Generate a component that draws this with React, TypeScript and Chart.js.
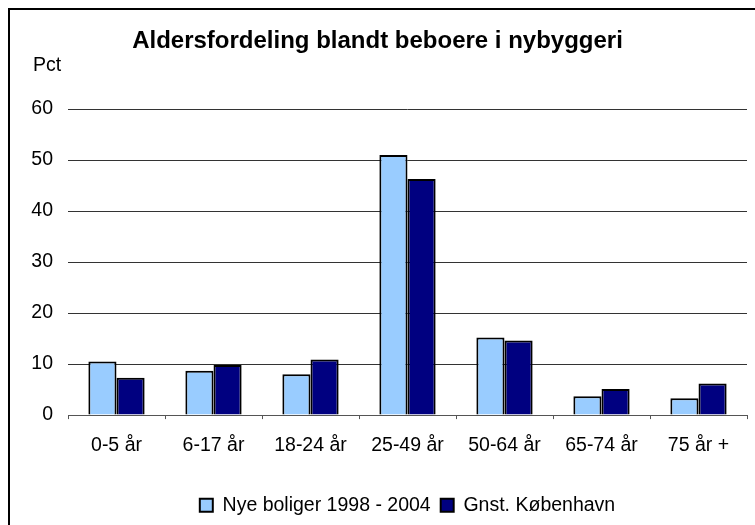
import React, { useEffect, useRef } from 'react';
import { Chart, registerables } from 'chart.js';
Chart.register(...registerables);

const categories = ['0-5 år', '6-17 år', '18-24 år', '25-49 år', '50-64 år', '65-74 år', '75 år +'];
const nyeBoliger = [10.5, 8.7, 8.0, 51.0, 15.2, 3.7, 3.3];
const gnstKbh = [7.3, 9.8, 10.9, 46.3, 14.6, 5.1, 6.2];
const yTicks = [0, 10, 20, 30, 40, 50, 60];
const seriesLabels = ['Nye boliger 1998 - 2004', 'Gnst. København'];
const titleText = 'Aldersfordeling blandt beboere i nybyggeri';
const yUnit = 'Pct';

const FONT = '"Liberation Sans", Arial, sans-serif';

const decor = {
  id: 'decor',
  afterDraw(chart: any) {
    const { ctx } = chart;
    ctx.save();
    ctx.fillStyle = '#000';
    ctx.fillRect(0, 0, chart.width, 2);
    ctx.fillRect(0, 0, 2, chart.height);
    ctx.font = `19.5px ${FONT}`;
    ctx.textBaseline = 'middle';
    ctx.textAlign = 'left';
    ctx.fillText(yUnit, 25, chart.chartArea.top - 43.5);
    ctx.restore();
  },
};

export default function App() {
  const ref = useRef<HTMLCanvasElement>(null);
  useEffect(() => {
    if (!ref.current) return;
    const chart = new Chart(ref.current, {
      type: 'bar',
      data: {
        labels: categories,
        datasets: [
          {
            label: seriesLabels[0],
            data: nyeBoliger,
            backgroundColor: '#99CCFF',
            borderColor: '#000',
            borderWidth: 2,
            categoryPercentage: 0.58,
            barPercentage: 1,
          },
          {
            label: seriesLabels[1],
            data: gnstKbh,
            backgroundColor: '#000080',
            borderColor: '#000',
            borderWidth: 2,
            categoryPercentage: 0.58,
            barPercentage: 1,
          },
        ],
      },
      options: {
        animation: false,
        responsive: false,
        maintainAspectRatio: false,
        layout: { padding: { left: 0, right: 8, top: 0, bottom: 0 } },
        plugins: {
          title: {
            display: true,
            text: titleText,
            color: '#000',
            font: { family: FONT, size: 24, weight: 'bold' },
            padding: { top: 19, bottom: 53.2 },
          },
          legend: {
            position: 'bottom',
            fullSize: false,
            labels: {
              boxWidth: 13,
              boxHeight: 13,
              padding: 10,
              color: '#000',
              font: { family: FONT, size: 19.5 },
            },
          },
          tooltip: { enabled: false },
        },
        scales: {
          x: {
            afterFit: (s: any) => {
              s.height += 13;
            },
            grid: {
              offset: true,
              drawOnChartArea: false,
              drawTicks: true,
              tickLength: 4,
              color: '#555',
            },
            border: { display: true, color: '#555', width: 1 },
            ticks: { color: '#000', font: { family: FONT, size: 19.5 }, padding: 15, maxRotation: 0 },
          },
          y: {
            min: 0,
            max: 60,
            afterFit: (s: any) => {
              s.width = 60;
            },
            afterBuildTicks: (s: any) => {
              s.ticks = yTicks.map((v) => ({ value: v }));
            },
            grid: { color: '#333', drawTicks: false },
            border: { display: false },
            ticks: { color: '#000', font: { family: FONT, size: 19.5 }, padding: 15 },
          },
        },
      },
      plugins: [decor],
    });
    return () => chart.destroy();
  }, []);
  return (
    <div style={{ position: 'absolute', left: 8, top: 8, width: 747, height: 517 }}>
      <canvas ref={ref} width={747} height={517} style={{ display: 'block', width: 747, height: 517 }} />
    </div>
  );
}
